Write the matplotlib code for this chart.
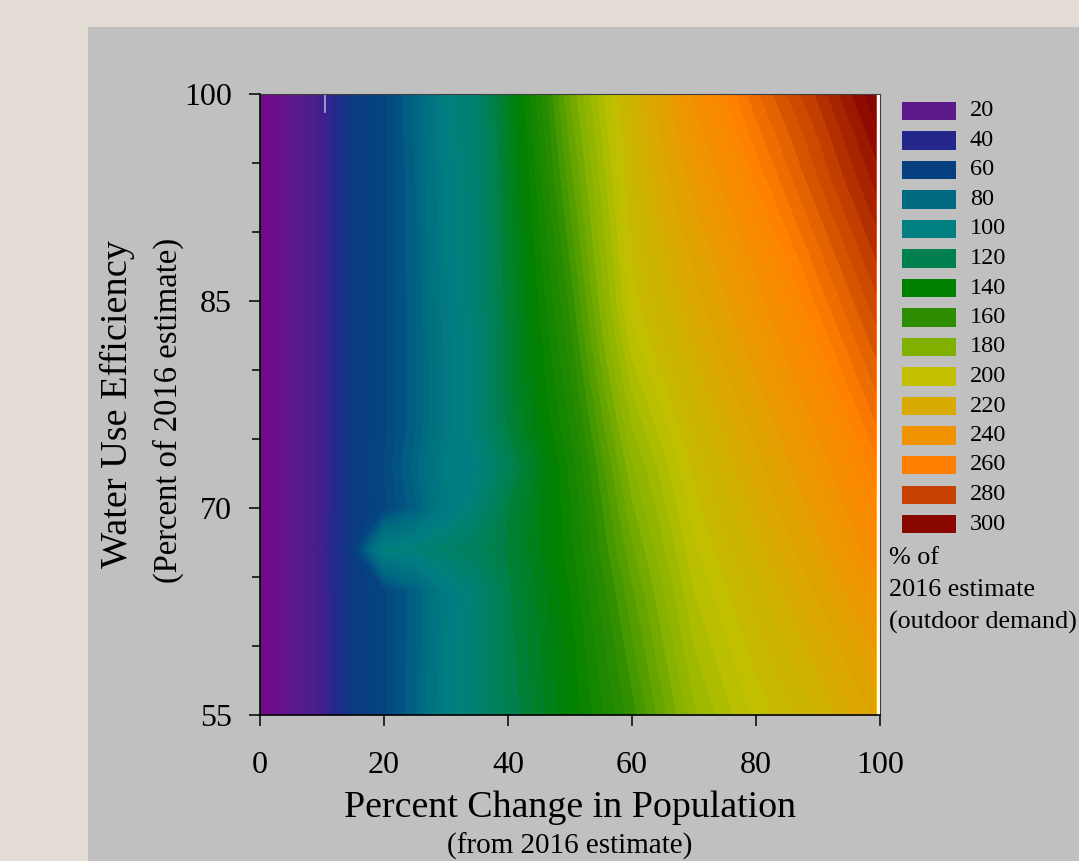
import matplotlib
matplotlib.use("Agg")
import matplotlib.pyplot as plt
import numpy as np
from matplotlib.colors import LinearSegmentedColormap, Normalize
from matplotlib.patches import Rectangle

plt.rcParams['font.family'] = ['Liberation Serif', 'DejaVu Serif']

# grid (rows: efficiency, columns: population change)
pop_change = [0, 5, 10, 15, 20, 25, 30, 35, 40, 50, 60, 70, 80, 90, 100]
efficiency = [55, 58, 61, 64, 67, 70, 73, 76, 79, 82, 85, 88, 91, 94, 97, 100]
demand = [
    [5, 18, 30, 56, 63, 76, 98, 108, 120, 140, 162, 187, 201, 212, 226],
    [5, 18, 30, 56, 63, 76, 97, 107, 121, 141, 165, 190, 204, 216, 231],
    [5, 18, 30, 56, 63, 75, 96, 107, 122, 142, 168, 193, 207, 220, 236],
    [5, 18, 30, 56, 63, 75, 95, 106, 123, 144, 171, 196, 210, 225, 242],
    [5, 18, 31, 58, 100, 104, 110, 116, 125, 146, 175, 199, 214, 230, 250],
    [5, 18, 30, 56, 63, 75, 94, 106, 124, 147, 179, 202, 218, 235, 255],
    [5, 18, 30, 56, 64, 78, 97, 100, 118, 149, 183, 205, 222, 240, 260],
    [5, 18, 30, 56, 63, 75, 93, 106, 125, 152, 188, 209, 226, 245, 265],
    [5, 18, 30, 56, 63, 75, 93, 106, 126, 155, 193, 213, 231, 251, 270],
    [5, 18, 30, 56, 63, 75, 94, 106, 126, 158, 198, 217, 236, 256, 275],
    [5, 18, 30, 56, 63, 75, 95, 107, 127, 161, 202, 221, 241, 261, 280],
    [5, 18, 30, 56, 63, 76, 96, 107, 128, 164, 204, 225, 246, 266, 285],
    [5, 18, 30, 56, 63, 76, 97, 108, 129, 167, 206, 230, 252, 271, 290],
    [5, 18, 30, 56, 63, 76, 98, 108, 130, 170, 208, 235, 257, 276, 295],
    [5, 18, 30, 56, 63, 77, 99, 109, 131, 173, 210, 240, 262, 280, 300],
    [5, 18, 30, 56, 63, 77, 100, 110, 132, 176, 212, 245, 267, 285, 305],
]
legend_values = [20, 40, 60, 80, 100, 120, 140, 160, 180, 200, 220, 240, 260, 280, 300]

# colour ramp (value, colour)
ramp = [(0, '#80008a'), (20, '#5a1a8c'), (40, '#24288a'), (60, '#043f80'),
        (80, '#006a82'), (100, '#008080'), (120, '#008050'), (140, '#008000'),
        (160, '#2a8c00'), (180, '#80b000'), (200, '#c0c000'), (220, '#d8aa00'),
        (240, '#f09400'), (260, '#ff8000'), (280, '#c84400'), (300, '#8a0800'),
        (310, '#780000')]
vmax = 310
cmap = LinearSegmentedColormap.from_list('wue', [(v / vmax, c) for v, c in ramp])
norm = Normalize(0, vmax)

fig = plt.figure(figsize=(10.79, 8.61), dpi=100)
fig.patch.set_facecolor('#e2dcd5')
fig.patches.append(Rectangle((88 / 1079, 0), 1, (861 - 27) / 861,
                             transform=fig.transFigure, facecolor='#c0c0c0',
                             edgecolor='none', zorder=-10))

ax = fig.add_axes([260 / 1079, (861 - 715) / 861, 620 / 1079, 621 / 861])
ax.set_zorder(5)
ax.set_facecolor('none')
X, Y = np.meshgrid(pop_change, efficiency)
ax.contourf(X, Y, np.array(demand), levels=np.arange(0, 314, 4), cmap=cmap, norm=norm)
ax.axvline(99.7, color='white', lw=2.5)
ax.plot([10.5, 10.5], [98.7, 100], color='#a8b4e0', lw=1.2)

ax.set_xlim(0, 100)
ax.set_ylim(55, 100)
ax.set_xticks([0, 20, 40, 60, 80, 100])
ax.set_yticks([55, 70, 85, 100])
ax.set_yticks(np.arange(55, 101, 5), minor=True)
ax.tick_params(which='major', direction='out', length=8, width=1.1, labelsize=23, pad=12)
ax.tick_params(axis='x', which='major', pad=18)
ax.tick_params(which='minor', direction='out', length=6, width=1.1)
ax.tick_params(axis='x', which='minor', bottom=False)
for side in ['left', 'bottom']:
    ax.spines[side].set_linewidth(1.2)
for side in ['top', 'right']:
    ax.spines[side].set_color('#404040')
    ax.spines[side].set_linewidth(0.8)

# axis titles
fig.text(570 / 1079, 1 - 808 / 861, 'Percent Change in Population', fontsize=27.3,
         ha='center', va='center')
fig.text(570 / 1079, 1 - 846 / 861, '(from 2016 estimate)', fontsize=21,
         ha='center', va='center')
fig.text(117 / 1079, 1 - 404 / 861, 'Water Use Efficiency', fontsize=27.5,
         rotation=90, ha='center', va='center')
fig.text(168 / 1079, 1 - 410 / 861, '(Percent of 2016 estimate)', fontsize=23.5,
         rotation=90, ha='center', va='center')

# legend
for i, v in enumerate(legend_values):
    yc = 111 + 29.5 * i
    fig.patches.append(Rectangle((902 / 1079, 1 - (yc + 9) / 861), 54 / 1079, 18 / 861,
                                 transform=fig.transFigure, facecolor=cmap(norm(v)),
                                 edgecolor='none', zorder=2))
    fig.text(970 / 1079, 1 - yc / 861, str(v), fontsize=17.5, ha='left', va='center')
for j, line in enumerate(['% of', '2016 estimate', '(outdoor demand)']):
    fig.text(889 / 1079, 1 - (558 + 32 * j) / 861, line, fontsize=18.8,
             ha='left', va='center')

fig.savefig('out.png', dpi=100, facecolor=fig.get_facecolor())
